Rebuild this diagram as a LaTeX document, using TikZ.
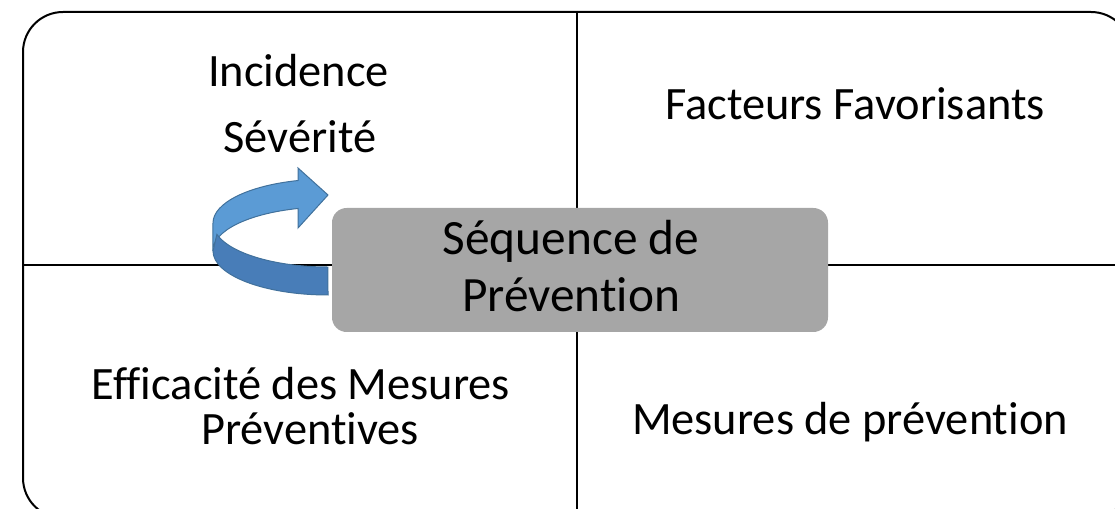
\documentclass[tikz,border=0pt]{standalone}
\usepackage{fontspec}
\setmainfont{Carlito}[Ligatures={NoCommon,NoContextual}]
\usepackage{tikz}

\begin{document}
\begin{tikzpicture}[x=0.75pt,y=0.75pt,yscale=-1,xscale=1,
    lbl/.style={anchor=base,inner sep=0.75pt,font=\fontsize{34.8}{36}\selectfont},
    divider/.style={line width=1.5pt},
    bandback/.style={fill={rgb,255:red,91;green,155;blue,213},draw={rgb,255:red,65;green,113;blue,156},line width=0.75pt},
    bandfront/.style={fill={rgb,255:red,72;green,125;blue,184},draw={rgb,255:red,65;green,113;blue,156},line width=0.75pt}]
    \useasboundingbox (0,0) rectangle (1115,509);
    \clip (0,0) rectangle (1115,509);

    %Shape: Rounded Rect [frame]
    \node (frame) [draw,divider,rounded corners=30pt,minimum width=831pt,minimum height=379.5pt,inner sep=0pt] at (577,265) {};
    %Straight Lines
    \draw [divider] (frame.north) -- (frame.south);
    \draw [divider] (frame.west) -- (frame.east);

    %Shape: Circular Arrow [back part]
    \draw [bandback] (213,223) arc (180:255:115 and 44) -- (298,168) -- (328,195) -- (298,228) -- (298,208.5) arc (255:180:115 and 44) -- cycle;
    %Shape: Circular Arrow [front part]
    \draw [bandfront] (216.9,234.4) arc (165:90:115 and 44) -- (328,295) arc (90:180:115 and 44) -- cycle;

    %Shape: Rounded Rect [centre]
    \node (seq) [fill={rgb,255:red,166;green,166;blue,166},rounded corners=11pt,minimum width=372pt,minimum height=93pt,inner sep=0pt] at (580,270) {};
    % Text Node
    \node (seqtext) [inner sep=0pt,align=center,font=\fontsize{37}{43}\selectfont] at (571,266) {Séquence de\\Prévention};

    % Text Node
    \node (incid) [lbl] at (298.5,87) {Incidence};
    % Text Node
    \node (sev) [lbl] at (300,153) {Sévérité};
    % Text Node
    \node (fact) [lbl] at (855,120) {Facteurs Favorisants};
    % Text Node
    \node (effic) [lbl] at (301,400) {Efficacité des Mesures};
    % Text Node
    \node (prev) [lbl] at (310,445) {Préventives};
    % Text Node
    \node (mes) [lbl] at (850,435) {Mesures de prévention};

\end{tikzpicture}
\end{document}
